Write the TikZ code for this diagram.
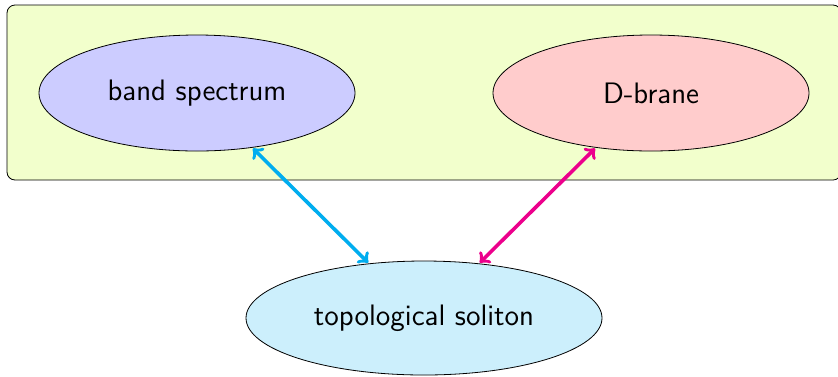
\documentclass[tikz,border=0pt]{standalone}
\usetikzlibrary{shapes.geometric}
\begin{document}
\begin{tikzpicture}[x=0.5pt,y=-0.5pt,
  concept/.style={ellipse,draw=black,thin,font=\sffamily\fontsize{14.8}{18}\selectfont,
    minimum width=158pt,minimum height=58pt,inner sep=0pt},
  link/.style={<->,>=to,line width=1.8pt,line cap=round,shorten <=0.5pt,shorten >=0.5pt},
  group/.style={draw=black,thin,fill=lime!20,rounded corners=4pt}]
  \useasboundingbox (0,0) rectangle (838,376);
  % shaded region holding the two upper concepts
  \path[group] (7,5) rectangle (841,180);
  \node[concept,fill=blue!20] (bs) at (197,93) {band spectrum};
  \node[concept,fill=red!20] (db) at (651,93) {D-brane};
  \node[concept,fill=cyan!20,minimum width=178pt,minimum height=57pt] (ts) at (424,318) {topological soliton};
  \draw[link,cyan] (bs) -- (ts);
  \draw[link,magenta] (db) -- (ts);
\end{tikzpicture}
\end{document}
